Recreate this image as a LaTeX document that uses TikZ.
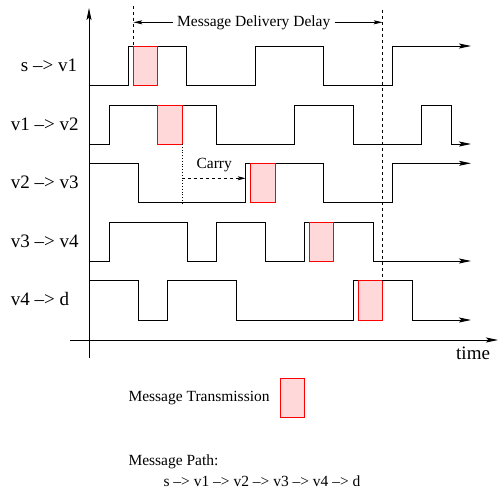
\documentclass[tikz,border=0pt]{standalone}
\usepackage{fontspec}
\setmainfont{Liberation Serif}
\usetikzlibrary{arrows.meta}
\begin{document}
\begin{tikzpicture}[x=1pt,y=-1pt,
  trace/.style={line width=0.9pt, line join=miter, -{Stealth[length=12pt,width=5pt,inset=2.5pt]}},
  axis/.style={line width=0.9pt, -{Stealth[length=12pt,width=5pt,inset=2.5pt]}},
  txbox/.style={draw=red, fill=red!15, line width=0.8pt},
  marker/.style={dashed, line width=0.8pt},
  delay/.style={line width=0.9pt, -{Stealth[length=9pt,width=4pt,inset=2pt]}},
  rowlabel/.style={font=\fontsize{19}{22}\selectfont, inner sep=0pt, anchor=west},
  note/.style={font=\fontsize{15.5}{18}\selectfont, inner sep=0pt, anchor=west}]
\useasboundingbox (0,0) rectangle (498,488);

% axes
\draw[axis] (89,358) -- (89,8);
\draw[axis] (70,340) -- (498,340);
\node[rowlabel] (time) at (456,353.3) {time};

% link activity traces
\draw[trace] (89,85) -| (128.7,46) -| (186.7,85) -| (255.7,46) -| (323.3,85) -| (392.3,46) -- (471,46);
\draw[trace] (89,144) -| (109,105) -| (216.7,144) -| (294.3,105) -| (353.3,144) -| (421.7,105) -| (451,144) -- (471,144);
\draw[trace] (89,163.3) -| (138,202.7) -| (245.7,163.3) -| (323.3,202.7) -| (392.3,163.3) -- (471,163.3);
\draw[trace] (89,261) -| (109,222.3) -| (187,261) -| (216.7,222.3) -| (265.3,261) -| (304.3,222.3) -| (373,261) -- (471,261);
\draw[trace] (89,280.7) -| (138.3,320) -| (167.3,280.7) -| (236,320) -| (353.7,280.7) -| (412,320) -- (471,320);

% transmissions
\draw[txbox] (133.3,46) rectangle (157.7,85);
\draw[txbox] (157.7,105) rectangle (182.3,144);
\draw[txbox] (250.7,163.3) rectangle (275.3,202.7);
\draw[txbox] (309.3,222.3) rectangle (333.7,261);
\draw[txbox] (358,280.7) rectangle (382.7,320);

% row labels
\node[rowlabel] (l1) at (20.7,65.7) {s --> v1};
\node[rowlabel] (l2) at (10.7,124.7) {v1 --> v2};
\node[rowlabel] (l3) at (10.7,182.7) {v2 --> v3};
\node[rowlabel] (l4) at (10.7,241.7) {v3 --> v4};
\node[rowlabel] (l5) at (10.7,299.3) {v4 --> d};

% delivery delay
\coordinate (dstartTop) at (133.3,6);
\coordinate (dstart) at (133.3,46);
\coordinate (dendTop) at (382.7,10);
\coordinate (dend) at (382.7,280.7);
\draw[marker] (dstartTop) -- (dstart);
\draw[marker] (dendTop) -- (dend);
\node[note, anchor=center, inner sep=4pt] (dd) at (253.7,22.3) {Message Delivery Delay};
\draw[delay] (dd.west) -- (dd.west -| dstart);
\draw[delay] (dd.east) -- (dd.east -| dend);

% carry
\coordinate (c0) at (182.3,144);
\coordinate (c1) at (182.3,203);
\coordinate (ca) at (182.3,178.3);
\coordinate (cb) at (245.7,178.3);
\draw[dotted, line width=0.8pt] (c0) -- (c1);
\draw[dashed, line width=0.8pt, -{Stealth[length=8pt,width=4pt,inset=2pt]}] (ca) -- (cb);
\node[note, anchor=center] (carry) at (214.2,165) {Carry};

% legend
\node[note] (lt) at (128.3,398.3) {Message Transmission};
\draw[txbox] (280,378.3) rectangle (304.3,417.7);
\node[note] (lp) at (128.3,461.7) {Message Path:};
\node[note] (lpp) at (163.3,480.7) {s --> v1 --> v2 --> v3 --> v4 --> d};
\end{tikzpicture}
\end{document}
